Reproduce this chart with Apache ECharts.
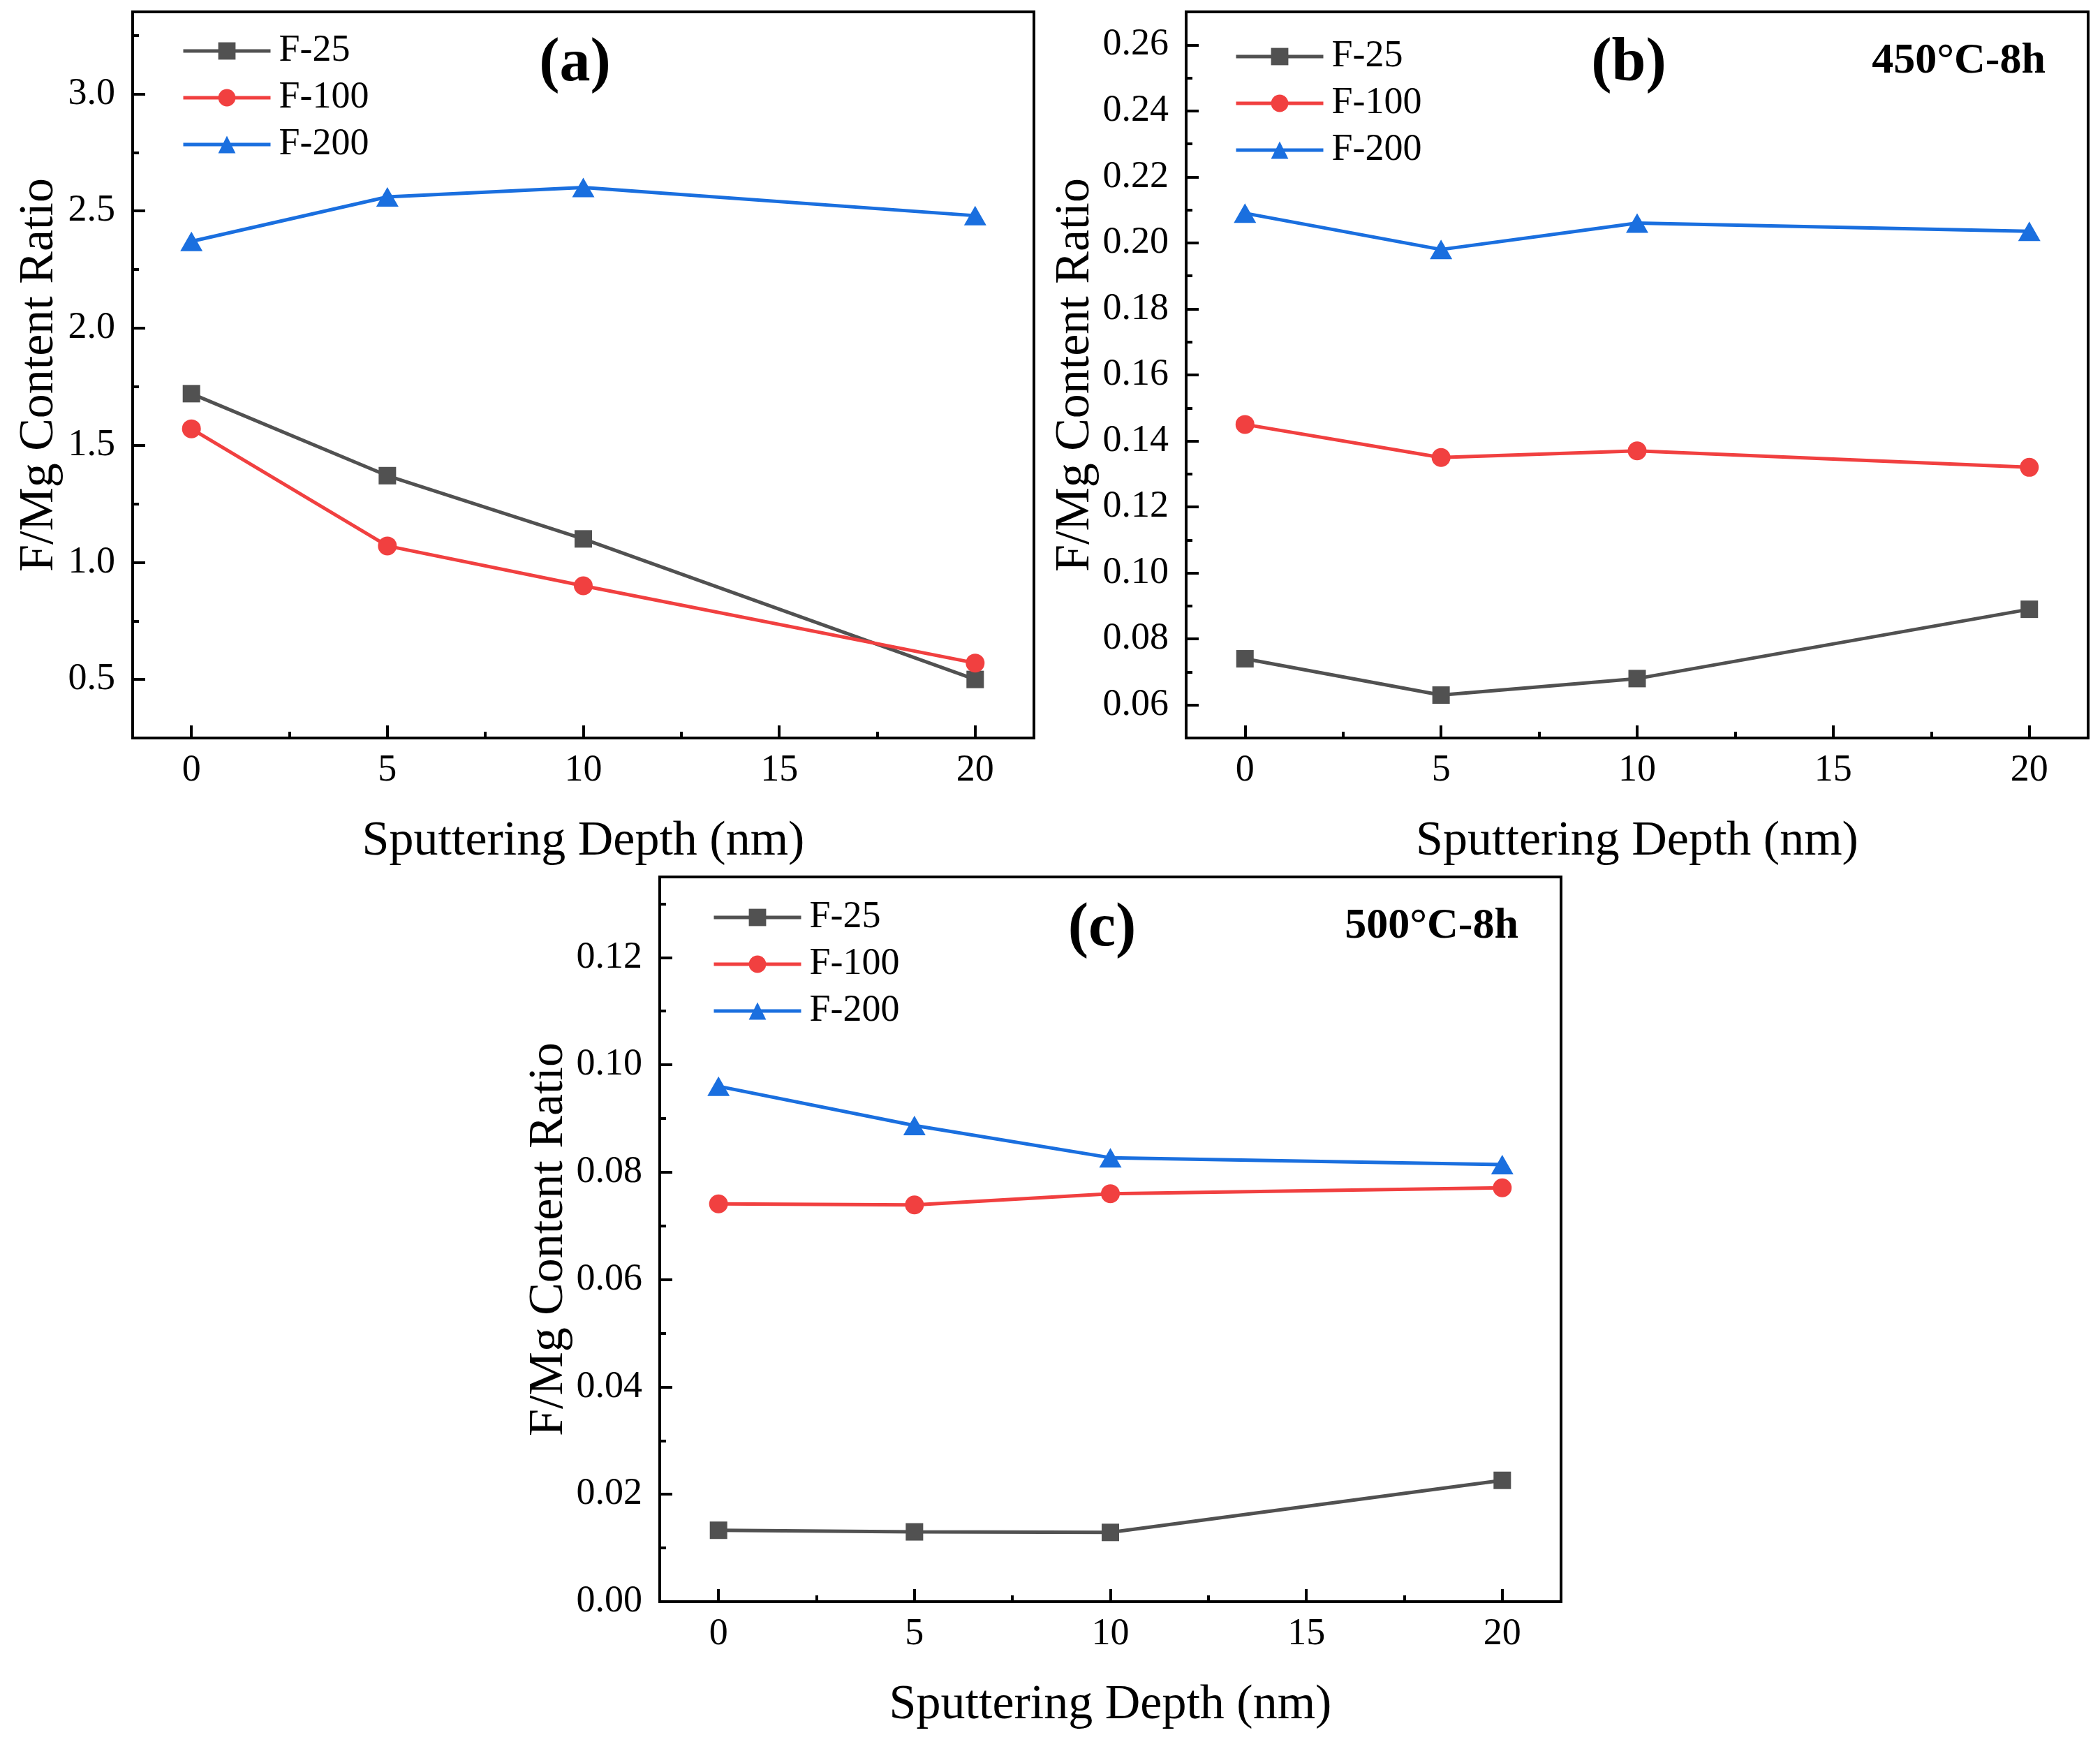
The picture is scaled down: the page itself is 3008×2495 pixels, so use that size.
<!DOCTYPE html>
<html>
<head>
<meta charset="utf-8">
<script src="https://cdn.jsdelivr.net/npm/echarts@6/dist/echarts.min.js"></script>
<style>html,body{margin:0;padding:0;background:#fff}#c{width:3008px;height:2495px}</style>
</head>
<body>
<div id="c"></div>
<script>
// ---- data ----
const depths = [0, 5, 10, 20];
const seriesNames = ['F-25', 'F-100', 'F-200'];

const a_F25  = [1.72, 1.37, 1.10, 0.50];
const a_F100 = [1.57, 1.07, 0.90, 0.57];
const a_F200 = [2.37, 2.56, 2.60, 2.48];

const b_F25  = [0.074, 0.063, 0.068, 0.089];
const b_F100 = [0.145, 0.135, 0.137, 0.132];
const b_F200 = [0.209, 0.198, 0.206, 0.2035];

const c_F25  = [0.0133, 0.0130, 0.0129, 0.0226];
const c_F100 = [0.0741, 0.0739, 0.0760, 0.0771];
const c_F200 = [0.0960, 0.0887, 0.0827, 0.0814];

// ---- tick values ----
const xMajorTicks = [0, 5, 10, 15, 20];
const xMinorTicks = [2.5, 7.5, 12.5, 17.5];
const aYMajorTicks = [0.5, 1.0, 1.5, 2.0, 2.5, 3.0];
const aYMinorTicks = [0.75, 1.25, 1.75, 2.25, 2.75, 3.25];
const bYMajorTicks = [0.06, 0.08, 0.10, 0.12, 0.14, 0.16, 0.18, 0.20, 0.22, 0.24, 0.26];
const bYMinorTicks = [0.07, 0.09, 0.11, 0.13, 0.15, 0.17, 0.19, 0.21, 0.23, 0.25];
const cYMajorTicks = [0.00, 0.02, 0.04, 0.06, 0.08, 0.10, 0.12];
const cYMinorTicks = [0.01, 0.03, 0.05, 0.07, 0.09, 0.11, 0.13];

const panelLabels = ['(a)', '(b)', '(c)'];
const conditionLabels = ['', '450°C-8h', '500°C-8h'];

// ---- style ----
const FONT = '"Liberation Serif", "Times New Roman", serif';
const colors = ['#515151', '#F14040', '#1A6FDF'];
const symbols = ['rect', 'circle', 'triangle'];
const symbolSizes = [25, 27, [32, 28]];
const LW = 5;

const panels = [
  { grid: { left: 190, top: 17, width: 1291, height: 1040 }, yMin: 0.25, yMax: 3.35, major: aYMajorTicks, minor: aYMinorTicks, dec: 1,
    data: [a_F25, a_F100, a_F200], legend: { left: 260, top: 46 } },
  { grid: { left: 1699, top: 17, width: 1292, height: 1040 }, yMin: 0.05, yMax: 0.27, major: bYMajorTicks, minor: bYMinorTicks, dec: 2,
    data: [b_F25, b_F100, b_F200], legend: { left: 1768, top: 54 } },
  { grid: { left: 945, top: 1256, width: 1291, height: 1038 }, yMin: 0, yMax: 0.135, major: cYMajorTicks, minor: cYMinorTicks, dec: 2,
    data: [c_F25, c_F100, c_F200], legend: { left: 1020, top: 1287 } }
];

const grids = [], xAxes = [], yAxes = [], series = [], legends = [], graphics = [];

panels.forEach((p, k) => {
  grids.push(Object.assign({ show: true, borderColor: '#000', borderWidth: 4, backgroundColor: 'transparent' }, p.grid));
  // major x axis
  xAxes.push({
    type: 'value', gridIndex: k, position: 'bottom', min: -1.5, max: 21.5,
    name: 'Sputtering Depth (nm)', nameLocation: 'middle', nameGap: 114,
    nameTextStyle: { fontFamily: FONT, fontSize: 70, color: '#000' },
    axisLine: { show: true, onZero: false, lineStyle: { color: '#000', width: 4 } },
    axisTick: { show: true, inside: true, length: 18, lineStyle: { color: '#000', width: 4 }, customValues: xMajorTicks },
    axisLabel: { show: true, margin: 20, fontFamily: FONT, fontSize: 54, color: '#000', customValues: xMajorTicks },
    splitLine: { show: false }
  });
  // minor x axis
  xAxes.push({
    type: 'value', gridIndex: k, position: 'bottom', min: -1.5, max: 21.5,
    axisLine: { show: false, onZero: false },
    axisTick: { show: true, inside: true, length: 9, lineStyle: { color: '#000', width: 4 }, customValues: xMinorTicks },
    axisLabel: { show: false, customValues: xMinorTicks },
    splitLine: { show: false }
  });
  // major y axis
  yAxes.push({
    type: 'value', gridIndex: k, position: 'left', min: p.yMin, max: p.yMax,
    name: 'F/Mg Content Ratio', nameLocation: 'middle', nameGap: 98,
    nameTextStyle: { fontFamily: FONT, fontSize: 70, color: '#000' },
    axisLine: { show: true, onZero: false, lineStyle: { color: '#000', width: 4 } },
    axisTick: { show: true, inside: true, length: 18, lineStyle: { color: '#000', width: 4 }, customValues: p.major },
    axisLabel: { show: true, margin: 25, fontFamily: FONT, fontSize: 54, color: '#000', customValues: p.major,
      formatter: (v) => Number(v).toFixed(p.dec) },
    splitLine: { show: false }
  });
  // minor y axis
  yAxes.push({
    type: 'value', gridIndex: k, position: 'left', min: p.yMin, max: p.yMax,
    axisLine: { show: false, onZero: false },
    axisTick: { show: true, inside: true, length: 9, lineStyle: { color: '#000', width: 4 }, customValues: p.minor },
    axisLabel: { show: false, customValues: p.minor },
    splitLine: { show: false }
  });

  p.data.forEach((vals, i) => {
    series.push({
      type: 'line', name: seriesNames[i], xAxisIndex: 2 * k, yAxisIndex: 2 * k,
      data: depths.map((d, j) => [d, vals[j]]),
      symbol: symbols[i], symbolSize: symbolSizes[i], showSymbol: true,
      lineStyle: { color: colors[i], width: LW },
      itemStyle: { color: colors[i] },
      z: 3 + i, animation: false
    });
  });

  legends.push({
    data: seriesNames, orient: 'vertical', left: p.legend.left, top: p.legend.top,
    padding: 0, itemWidth: 125, itemHeight: 31, itemGap: 13, selectedMode: false,
    lineStyle: { width: LW },
    textStyle: { fontFamily: FONT, fontSize: 54, lineHeight: 54, color: '#000', padding: [0, 0, 0, 7] }
  });

  const g = p.grid;
  graphics.push({
    type: 'text', x: g.left + g.width / 2 - 12, y: g.top + 75,
    style: { text: panelLabels[k], font: 'bold 88px ' + FONT, fill: '#000', textAlign: 'center', textVerticalAlign: 'middle' }
  });
  if (conditionLabels[k]) {
    graphics.push({
      type: 'text', x: g.left + g.width - 61, y: g.top + 71,
      style: { text: conditionLabels[k], font: 'bold 62px ' + FONT, fill: '#000', textAlign: 'right', textVerticalAlign: 'middle' }
    });
  }
});

const chart = echarts.init(document.getElementById('c'), null, { renderer: 'canvas' });
chart.setOption({
  backgroundColor: '#fff',
  animation: false,
  grid: grids,
  xAxis: xAxes,
  yAxis: yAxes,
  legend: legends,
  series: series,
  graphic: graphics
});
</script>
</body>
</html>
